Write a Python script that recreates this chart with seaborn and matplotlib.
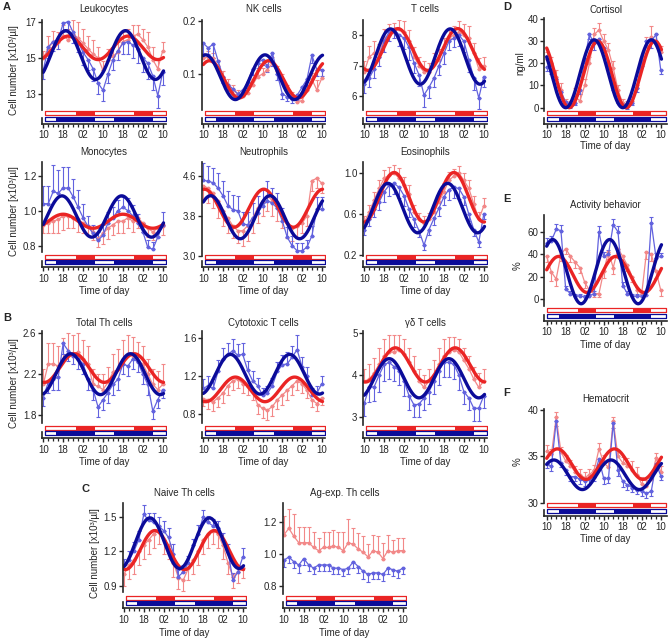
import numpy as np
import matplotlib
matplotlib.use("Agg")
import matplotlib.pyplot as plt
import seaborn as sns

sns.set_style("ticks")
plt.rcParams["font.family"] = ["Liberation Sans", "DejaVu Sans"]
plt.rcParams["font.size"] = 7

W, H = 669, 639
RED_FIT = "#ea2424"
BLUE_FIT = "#0b0b99"
RED_DATA = "#f28888"
BLUE_DATA = "#6262de"

# sampling times (h from 10:00 on day 1)
hours = [10, 12, 14, 16, 18, 20, 22, 24, 26, 28, 30, 32, 34, 36, 38, 40, 42, 44, 46, 48, 50, 52, 54, 56, 58]
tick_pos = [10, 18, 26, 34, 42, 50, 58]
tick_lab = ["10", "18", "02", "10", "18", "02", "10"]

# light / activity schedule bars
red_night = [(23, 30.7), (46.3, 54)]
blue_dark = [(15.2, 30.7), (38.5, 54)]

# ---- panel data (red condition / blue condition, mean and SEM) ----
leuko_red = [15.0, 15.5, 15.9, 15.9, 16.2, 16.0, 16.3, 16.1, 15.8, 15.5, 15.2, 15.0, 14.3, 14.9, 15.1, 15.3, 15.9, 16.0, 16.2, 16.3, 16.0, 15.6, 14.9, 14.4, 15.4]
leuko_red_err = [0.4, 0.7, 0.6, 0.5, 0.6, 0.6, 0.8, 0.9, 0.8, 0.7, 0.8, 0.6, 0.5, 0.6, 0.5, 0.6, 0.5, 0.6, 0.6, 0.5, 0.6, 0.8, 0.7, 0.5, 0.5]
leuko_blue = [14.3, 15.6, 15.9, 16.0, 16.9, 17.0, 16.4, 15.9, 15.3, 14.9, 14.4, 13.6, 13.2, 14.1, 14.9, 15.4, 15.8, 15.9, 15.7, 15.5, 15.0, 14.7, 14.0, 12.9, 14.2]
leuko_blue_err = [0.5, 0.6, 0.5, 0.5, 0.5, 0.6, 0.6, 0.6, 0.7, 0.6, 0.7, 0.6, 0.6, 0.5, 0.6, 0.5, 0.6, 0.7, 0.7, 0.8, 0.8, 0.9, 0.8, 0.7, 0.7]

nk_red = [0.13, 0.132, 0.13, 0.115, 0.095, 0.08, 0.07, 0.062, 0.058, 0.065, 0.08, 0.095, 0.1, 0.108, 0.12, 0.105, 0.09, 0.07, 0.058, 0.048, 0.05, 0.07, 0.09, 0.07, 0.092]
nk_red_err = [0.01, 0.012, 0.01, 0.012, 0.01, 0.01, 0.01, 0.008, 0.008, 0.01, 0.01, 0.012, 0.012, 0.01, 0.012, 0.01, 0.01, 0.01, 0.008, 0.01, 0.01, 0.015, 0.012, 0.018, 0.015]
nk_blue = [0.158, 0.149, 0.156, 0.125, 0.095, 0.08, 0.072, 0.063, 0.07, 0.085, 0.11, 0.121, 0.127, 0.115, 0.14, 0.1, 0.063, 0.057, 0.054, 0.06, 0.075, 0.09, 0.135, 0.108, 0.108]
nk_blue_err = [0.02, 0.012, 0.025, 0.015, 0.012, 0.01, 0.01, 0.008, 0.01, 0.012, 0.012, 0.01, 0.01, 0.012, 0.025, 0.012, 0.01, 0.008, 0.008, 0.008, 0.01, 0.012, 0.015, 0.012, 0.012]

tc_red = [6.8, 7.3, 7.4, 7.4, 7.9, 8.0, 8.1, 8.2, 8.1, 7.8, 7.3, 7.0, 6.8, 6.8, 7.1, 7.2, 7.6, 7.9, 8.0, 8.1, 8.0, 7.9, 7.4, 6.9, 7.0]
tc_red_err = [0.35, 0.35, 0.4, 0.3, 0.3, 0.35, 0.3, 0.3, 0.35, 0.35, 0.3, 0.3, 0.35, 0.3, 0.3, 0.35, 0.3, 0.3, 0.3, 0.35, 0.35, 0.4, 0.35, 0.35, 0.3]
tc_blue = [6.4, 6.6, 6.9, 7.3, 7.8, 8.1, 8.2, 8.0, 7.9, 7.6, 7.1, 6.7, 6.05, 6.3, 6.6, 7.0, 7.4, 7.8, 7.9, 8.0, 7.8, 7.2, 6.6, 5.95, 6.65]
tc_blue_err = [0.3, 0.3, 0.3, 0.3, 0.35, 0.3, 0.3, 0.35, 0.35, 0.4, 0.35, 0.35, 0.4, 0.35, 0.3, 0.3, 0.35, 0.3, 0.3, 0.35, 0.35, 0.4, 0.4, 0.35, 0.35]

mono_red = [0.92, 0.93, 0.94, 0.95, 0.97, 0.97, 0.96, 0.95, 0.93, 0.91, 0.88, 0.84, 0.87, 0.90, 0.92, 0.94, 0.94, 0.96, 0.94, 0.96, 0.93, 0.90, 0.88, 0.90, 0.91]
mono_red_err = [0.05, 0.06, 0.07, 0.08, 0.08, 0.07, 0.06, 0.07, 0.06, 0.05, 0.05, 0.05, 0.06, 0.06, 0.06, 0.07, 0.07, 0.06, 0.06, 0.06, 0.05, 0.05, 0.05, 0.05, 0.05]
mono_blue = [1.04, 1.04, 1.11, 1.10, 1.13, 1.13, 1.08, 1.02, 0.96, 0.91, 0.87, 0.83, 0.86, 0.93, 0.96, 1.00, 1.02, 1.00, 0.97, 0.93, 0.88, 0.79, 0.78, 0.85, 0.92]
mono_blue_err = [0.1, 0.1, 0.15, 0.13, 0.12, 0.12, 0.1, 0.1, 0.08, 0.06, 0.05, 0.05, 0.06, 0.06, 0.06, 0.06, 0.06, 0.07, 0.06, 0.05, 0.05, 0.04, 0.04, 0.05, 0.07]

neut_red = [4.4, 4.35, 4.25, 4.1, 3.9, 3.75, 3.6, 3.5, 3.5, 3.6, 3.75, 3.95, 4.1, 4.2, 4.1, 4.0, 3.85, 3.65, 3.55, 3.6, 3.65, 3.8, 4.5, 4.55, 4.45]
neut_red_err = [0.3, 0.3, 0.3, 0.35, 0.3, 0.3, 0.25, 0.25, 0.3, 0.3, 0.3, 0.3, 0.3, 0.3, 0.3, 0.3, 0.3, 0.3, 0.25, 0.25, 0.2, 0.2, 0.2, 0.2, 0.2]
neut_blue = [4.51, 4.49, 4.46, 4.35, 4.2, 4.0, 3.92, 3.9, 3.63, 3.62, 3.76, 3.85, 4.0, 4.1, 4.05, 3.95, 3.7, 3.37, 3.2, 3.1, 3.1, 3.17, 3.4, 3.93, 3.93]
neut_blue_err = [0.35, 0.3, 0.3, 0.3, 0.3, 0.3, 0.3, 0.3, 0.25, 0.25, 0.3, 0.35, 0.35, 0.4, 0.3, 0.3, 0.25, 0.2, 0.2, 0.15, 0.15, 0.15, 0.2, 0.25, 0.25]

eos_red = [0.52, 0.62, 0.74, 0.85, 0.95, 0.98, 1.0, 0.95, 0.88, 0.80, 0.62, 0.55, 0.52, 0.55, 0.62, 0.72, 0.82, 0.93, 0.97, 1.0, 0.93, 0.85, 0.7, 0.55, 0.68]
eos_red_err = [0.06, 0.07, 0.08, 0.08, 0.08, 0.08, 0.08, 0.1, 0.08, 0.08, 0.07, 0.06, 0.06, 0.06, 0.07, 0.08, 0.08, 0.08, 0.07, 0.07, 0.07, 0.08, 0.08, 0.07, 0.08]
eos_blue = [0.45, 0.55, 0.65, 0.72, 0.82, 0.88, 0.9, 0.86, 0.78, 0.65, 0.55, 0.44, 0.3, 0.45, 0.56, 0.66, 0.77, 0.84, 0.86, 0.85, 0.77, 0.6, 0.45, 0.33, 0.6]
eos_blue_err = [0.05, 0.06, 0.08, 0.08, 0.1, 0.1, 0.1, 0.1, 0.1, 0.08, 0.07, 0.06, 0.05, 0.05, 0.06, 0.08, 0.08, 0.1, 0.1, 0.1, 0.08, 0.07, 0.06, 0.05, 0.05]

th_red = [2.1, 2.3, 2.3, 2.28, 2.35, 2.4, 2.38, 2.42, 2.35, 2.3, 2.1, 2.08, 2.05, 2.12, 2.22, 2.25, 2.35, 2.4, 2.38, 2.33, 2.3, 2.2, 2.1, 2.05, 2.1]
th_red_err = [0.15, 0.2, 0.2, 0.2, 0.2, 0.2, 0.2, 0.18, 0.18, 0.18, 0.15, 0.12, 0.15, 0.15, 0.18, 0.2, 0.18, 0.18, 0.18, 0.18, 0.18, 0.15, 0.15, 0.18, 0.2]
th_blue = [1.97, 2.12, 2.15, 2.17, 2.5, 2.43, 2.38, 2.35, 2.3, 2.15, 2.05, 1.88, 1.95, 2.02, 2.1, 2.15, 2.3, 2.28, 2.35, 2.32, 2.2, 2.1, 1.84, 1.95, 2.05]
th_blue_err = [0.08, 0.1, 0.1, 0.12, 0.1, 0.1, 0.08, 0.1, 0.1, 0.1, 0.1, 0.1, 0.1, 0.1, 0.1, 0.1, 0.1, 0.1, 0.1, 0.1, 0.1, 0.1, 0.08, 0.08, 0.08]

cyto_red = [0.96, 0.95, 0.93, 0.97, 1.02, 1.1, 1.15, 1.17, 1.12, 1.1, 1.05, 0.9, 0.86, 0.84, 0.88, 0.95, 1.0, 1.05, 1.1, 1.15, 1.12, 1.05, 0.95, 0.91, 0.97]
cyto_red_err = [0.08, 0.1, 0.1, 0.1, 0.1, 0.1, 0.1, 0.1, 0.1, 0.1, 0.1, 0.1, 0.1, 0.1, 0.1, 0.1, 0.1, 0.1, 0.1, 0.1, 0.1, 0.08, 0.08, 0.08, 0.08]
cyto_blue = [1.07, 1.1, 1.07, 1.25, 1.38, 1.43, 1.47, 1.42, 1.43, 1.26, 1.15, 1.1, 1.0, 1.02, 1.1, 1.25, 1.32, 1.33, 1.4, 1.48, 1.3, 1.2, 1.0, 1.02, 1.12]
cyto_blue_err = [0.1, 0.1, 0.1, 0.12, 0.12, 0.12, 0.12, 0.12, 0.12, 0.1, 0.1, 0.08, 0.08, 0.08, 0.08, 0.1, 0.1, 0.12, 0.12, 0.15, 0.1, 0.1, 0.08, 0.08, 0.08]

gd_red = [3.85, 3.9, 4.05, 4.25, 4.45, 4.55, 4.55, 4.6, 4.5, 4.3, 4.1, 3.85, 3.7, 3.85, 4.0, 4.25, 4.45, 4.55, 4.6, 4.55, 4.35, 4.15, 3.9, 3.7, 3.85]
gd_red_err = [0.3, 0.35, 0.35, 0.4, 0.4, 0.4, 0.4, 0.35, 0.35, 0.35, 0.35, 0.3, 0.3, 0.3, 0.35, 0.4, 0.4, 0.35, 0.3, 0.3, 0.3, 0.3, 0.3, 0.35, 0.3]
gd_blue = [3.32, 3.7, 3.72, 4.0, 4.25, 4.3, 4.2, 4.1, 3.85, 3.5, 3.28, 3.3, 3.45, 3.6, 3.85, 4.1, 4.3, 4.3, 4.25, 4.0, 3.6, 3.45, 3.2, 3.2, 3.5]
gd_blue_err = [0.3, 0.35, 0.35, 0.4, 0.4, 0.4, 0.35, 0.35, 0.35, 0.35, 0.3, 0.3, 0.3, 0.3, 0.3, 0.35, 0.35, 0.35, 0.35, 0.35, 0.3, 0.3, 0.3, 0.3, 0.3]

naive_red = [1.0, 1.08, 1.12, 1.2, 1.25, 1.3, 1.35, 1.38, 1.3, 1.25, 1.1, 0.97, 0.95, 1.05, 1.12, 1.2, 1.3, 1.35, 1.38, 1.35, 1.25, 1.1, 0.98, 1.02, 1.05]
naive_red_err = [0.1, 0.12, 0.12, 0.12, 0.12, 0.12, 0.12, 0.12, 0.12, 0.12, 0.12, 0.1, 0.1, 0.1, 0.12, 0.12, 0.12, 0.12, 0.12, 0.12, 0.12, 0.1, 0.1, 0.1, 0.08]
naive_blue = [1.08, 1.12, 1.2, 1.3, 1.52, 1.47, 1.45, 1.42, 1.38, 1.32, 1.18, 0.98, 1.02, 1.1, 1.25, 1.35, 1.5, 1.45, 1.42, 1.4, 1.3, 1.2, 0.95, 1.02, 1.15]
naive_blue_err = [0.05, 0.08, 0.08, 0.08, 0.08, 0.06, 0.08, 0.08, 0.08, 0.08, 0.08, 0.06, 0.06, 0.06, 0.06, 0.08, 0.06, 0.06, 0.06, 0.06, 0.06, 0.06, 0.06, 0.06, 0.08]

ag_red = [1.12, 1.16, 1.11, 1.07, 1.07, 1.07, 1.04, 1.02, 1.04, 1.04, 1.05, 1.04, 1.02, 1.07, 1.06, 1.03, 1.01, 0.98, 1.02, 1.01, 0.97, 1.02, 1.01, 1.02, 1.02]
ag_red_err = [0.12, 0.12, 0.14, 0.1, 0.1, 0.1, 0.1, 0.08, 0.1, 0.1, 0.1, 0.1, 0.12, 0.15, 0.1, 0.1, 0.1, 0.08, 0.1, 0.1, 0.1, 0.1, 0.08, 0.08, 0.08]
ag_blue = [0.96, 0.98, 0.95, 0.93, 0.97, 0.93, 0.91, 0.93, 0.93, 0.93, 0.91, 0.91, 0.90, 0.91, 0.95, 0.92, 0.89, 0.87, 0.88, 0.88, 0.87, 0.91, 0.90, 0.89, 0.91]
ag_blue_err = [0.04, 0.04, 0.04, 0.05, 0.04, 0.04, 0.04, 0.04, 0.04, 0.04, 0.04, 0.04, 0.04, 0.04, 0.04, 0.04, 0.05, 0.05, 0.04, 0.04, 0.04, 0.04, 0.04, 0.04, 0.04]

cort_red = [22, 20, 14, 8, 2, 1, 5, 3, 10, 20, 33, 35, 30, 26, 18, 8, 2, 1, 3, 10, 20, 28, 32, 30, 25]
cort_red_err = [3, 3, 3, 3, 2, 2, 4, 3, 3, 3, 3, 3, 3, 3, 3, 2, 2, 2, 2, 3, 3, 4, 5, 3, 3]
cort_blue = [18.5, 17, 13, 7, 2.5, 1, 2, 8, 22, 33, 29, 31, 27, 20, 10, 3, 1, 0.5, 2, 9, 21, 30, 30, 33, 17]
cort_blue_err = [2, 2, 2, 2, 1, 1, 1, 2, 2, 2, 3, 2, 2, 2, 2, 1, 1, 1, 1, 2, 2, 2, 3, 3, 2]

act_red = [38, 24, 18, 40, 45, 38, 33, 28, 15, 8, 5, 5, 25, 42, 28, 45, 38, 30, 20, 8, 5, 42, 40, 25, 8]
act_red_err = [5, 8, 6, 6, 5, 5, 5, 5, 5, 4, 3, 3, 6, 6, 6, 5, 5, 5, 5, 4, 3, 6, 6, 6, 5]
act_blue = [50, 52, 62, 61, 9, 5, 3, 3, 2, 3, 5, 60, 38, 40, 66, 60, 12, 5, 3, 2.5, 3, 4, 68, 37, 38]
act_blue_err = [4, 4, 5, 5, 3, 2, 2, 2, 2, 2, 2, 5, 4, 4, 5, 5, 3, 2, 2, 2, 2, 2, 5, 4, 3]

hct_red = [35.6, 35.2, 39.2, 35.5, 34.5, 34.0, 33.3, 33.0, 32.7, 33.0, 33.5, 35.8, 34.3, 33.8, 38.8, 35.0, 34.3, 34.0, 33.5, 33.0, 32.0, 31.8, 32.5, 34.8, 33.3]
hct_red_err = [0.6, 0.6, 0.6, 0.5, 0.6, 0.6, 0.6, 0.6, 0.6, 0.6, 0.6, 0.6, 0.8, 0.6, 0.5, 0.6, 0.6, 0.8, 1.0, 0.8, 0.8, 0.6, 0.6, 0.6, 0.6]
hct_blue = [34.2, 33.9, 38.8, 34.3, 33.5, 32.8, 32.8, 32.5, 32.3, 32.5, 32.8, 34.7, 32.6, 32.6, 38.6, 33.5, 32.3, 31.9, 31.6, 31.4, 31.2, 31.0, 31.2, 34.2, 32.9]
hct_blue_err = [0.5, 0.5, 0.5, 0.5, 0.5, 0.5, 0.5, 0.5, 0.5, 0.5, 0.5, 0.6, 0.6, 0.5, 0.5, 0.6, 0.6, 0.5, 0.5, 0.5, 0.5, 0.5, 0.5, 0.5, 0.5]

# cosinor fits: (mesor, amplitude, peak hour)
fits = {
    "Leukocytes": ((15.55, 0.65, 20), (15.15, 1.35, 19)),
    "NK cells": ((0.09, 0.035, 12.5), (0.094, 0.042, 11)),
    "T cells": ((7.53, 0.68, 23.5), (7.3, 0.9, 20.5)),
    "Monocytes": ((0.94, 0.04, 18), (0.967, 0.118, 17.5)),
    "Neutrophils": ((3.95, 0.38, 10.5), (3.77, 0.43, 13)),
    "Eosinophils": ((0.765, 0.24, 22), (0.66, 0.24, 19.5)),
    "Total Th cells": ((2.26, 0.14, 22.5), (2.2, 0.2, 21)),
    "Cytotoxic T cells": ((1.06, 0.13, 23), (1.22, 0.21, 21)),
    "γδ T cells": ((4.24, 0.41, 22.5), (3.92, 0.47, 20)),
    "Naive Th cells": ((1.21, 0.17, 22.5), (1.27, 0.22, 20.5)),
    "Cortisol": ((15, 15, 31.5), (15.3, 15.3, 30)),
    "Activity behavior": ((22, 16, 15), (24.5, 28.5, 12.5)),
    "Hematocrit": ((34.15, 1.65, 14.5), (33.0, 1.6, 13)),
}

fig = plt.figure(figsize=(W / 100, H / 100), dpi=100)


def px_axes(l, t, r, b):
    return fig.add_axes([l / W, 1 - b / H, (r - l) / W, (b - t) / H])


def cosinor(p, t):
    m, a, peak = p
    return m + a * np.cos(2 * np.pi * (t - peak) / 24)


def panel(box, xlim, ylim, yticks, ylabels, title, title_y, red, red_err, blue, blue_err, red_up=True):
    l, r, top, dbot, xax = box
    ax = px_axes(l, top, r, dbot)
    ax.set_xlim(xlim)
    ax.set_ylim(ylim)
    ax.patch.set_alpha(0)
    zeros = [0] * len(hours)
    r_err = [zeros, red_err] if red_up else [red_err, zeros]
    b_err = [blue_err, zeros] if red_up else [zeros, blue_err]
    ax.errorbar(hours, red, yerr=r_err, fmt="none", ecolor=RED_DATA, elinewidth=0.8, capsize=1.6, capthick=0.8)
    ax.errorbar(hours, blue, yerr=b_err, fmt="none", ecolor=BLUE_DATA, elinewidth=0.8, capsize=1.6, capthick=0.8)
    sns.lineplot(x=hours, y=red, ax=ax, color=RED_DATA, linewidth=0.9, marker="o", markersize=2.8, markeredgewidth=0)
    sns.lineplot(x=hours, y=blue, ax=ax, color=BLUE_DATA, linewidth=0.9, marker="o", markersize=2.8, markeredgewidth=0)
    if title in fits:
        tt = np.linspace(10, 58.3, 300)
        sns.lineplot(x=tt, y=cosinor(fits[title][0], tt), ax=ax, color=RED_FIT, linewidth=2.4)
        sns.lineplot(x=tt, y=cosinor(fits[title][1], tt), ax=ax, color=BLUE_FIT, linewidth=2.4)
    sns.despine(ax=ax, bottom=True)
    ax.set_xticks([])
    ax.set_yticks(yticks)
    ax.set_yticklabels(ylabels)
    ax.spines["left"].set_linewidth(1.2)
    ax.tick_params(axis="y", length=3, width=1, pad=1, labelsize=7)
    ax.set_xlabel("")
    ax.set_ylabel("")

    # schedule bars + time axis
    bx = px_axes(l, xax - 15, r, xax)
    bx.set_xlim(xlim)
    bx.set_ylim(0, 1)
    bx.patch.set_alpha(0)
    sns.despine(ax=bx)
    bx.spines["left"].set_bounds(0, 0.4)
    bx.spines["left"].set_linewidth(1.2)
    bx.spines["bottom"].set_linewidth(1.2)
    bx.set_yticks([])
    x0 = xlim[0] + 1.3
    x1 = xlim[1] - 0.1
    bx.broken_barh([(x0, x1 - x0)], (0.58, 0.26), facecolor="white", edgecolor=RED_FIT, linewidth=0.9)
    bx.broken_barh([(a, b - a) for a, b in red_night], (0.58, 0.26), facecolor=RED_FIT, edgecolor="none")
    bx.broken_barh([(x0, x1 - x0)], (0.19, 0.27), facecolor="white", edgecolor=BLUE_FIT, linewidth=0.9)
    bx.broken_barh([(a, b - a) for a, b in blue_dark], (0.19, 0.27), facecolor=BLUE_FIT, edgecolor="none")
    bx.set_xticks(tick_pos)
    bx.set_xticklabels(tick_lab)
    bx.set_xticks(hours, minor=True)
    bx.tick_params(axis="x", which="major", length=3, width=1, pad=1.5, labelsize=7)
    bx.tick_params(axis="x", which="minor", length=2.2, width=0.9)

    fig.text((l + r) / 2 / W, 1 - title_y / H, title, ha="center", va="center", fontsize=7)
    return ax


C1 = (9.5, 59.3)
CR = (9.0, 60.5)

# row A top
panel((42, 166, 20, 110, 124), C1, (12.11, 17.09), [13, 15, 17], ["13", "15", "17"], "Leukocytes", 8.5,
      leuko_red, leuko_red_err, leuko_blue, leuko_blue_err)
panel((202, 325, 20, 110, 124), C1, (0.0324, 0.2015), [0.1, 0.2], ["0.1", "0.2"], "NK cells", 8.5,
      nk_red, nk_red_err, nk_blue, nk_blue_err)
for a in fig.axes[-2:-1]:
    pass
panel((363, 487, 20, 110, 124), C1, (5.56, 8.49), [6, 7, 8], ["6", "7", "8"], "T cells", 8.5,
      tc_red, tc_red_err, tc_blue, tc_blue_err)

# row A bottom
panel((42, 166, 161.7, 251.7, 267.3), C1, (0.766, 1.28), [0.8, 1.0, 1.2], ["0.8", "1.0", "1.2"], "Monocytes", 152,
      mono_red, mono_red_err, mono_blue, mono_blue_err, red_up=False)
panel((202, 325, 161.7, 256, 267.3), C1, (2.995, 4.88), [3.0, 3.8, 4.6], ["3.0", "3.8", "4.6"], "Neutrophils", 152,
      neut_red, neut_red_err, neut_blue, neut_blue_err, red_up=False)
panel((363, 487, 161.7, 256, 267.3), C1, (0.195, 1.11), [0.2, 0.6, 1.0], ["0.2", "0.6", "1.0"], "Eosinophils", 152,
      eos_red, eos_red_err, eos_blue, eos_blue_err)

# row B
panel((42, 166, 330.7, 423.3, 438.3), C1, (1.72, 2.625), [1.8, 2.2, 2.6], ["1.8", "2.2", "2.6"], "Total Th cells", 323,
      th_red, th_red_err, th_blue, th_blue_err)
panel((202, 325, 330.7, 423, 438.3), C1, (0.705, 1.68), [0.8, 1.2, 1.6], ["0.8", "1.2", "1.6"], "Cytotoxic T cells", 323,
      cyto_red, cyto_red_err, cyto_blue, cyto_blue_err, red_up=False)
panel((363, 487, 330.7, 425, 438.3), C1, (2.8, 5.06), [3, 4, 5], ["3", "4", "5"], "γδ T cells", 323,
      gd_red, gd_red_err, gd_blue, gd_blue_err)

# row C
panel((122.7, 246, 503.3, 591.7, 608.3), C1, (0.848, 1.617), [0.9, 1.2, 1.5], ["0.9", "1.2", "1.5"], "Naive Th cells", 493,
      naive_red, naive_red_err, naive_blue, naive_blue_err, red_up=False)
panel((282.7, 406, 503.3, 594, 608.3), C1, (0.747, 1.318), [0.8, 1.0, 1.2], ["0.8", "1.0", "1.2"], "Ag-exp. Th cells", 493,
      ag_red, ag_red_err, ag_blue, ag_blue_err)

# right column
panel((544.3, 666.7, 18.3, 111, 124), CR, (-1.5, 40.3), [0, 10, 20, 30, 40], ["0", "10", "20", "30", "40"], "Cortisol", 10,
      cort_red, cort_red_err, cort_blue, cort_blue_err)
panel((544.3, 666.7, 215, 306, 321), CR, (-6.0, 74.8), [0, 20, 40, 60], ["0", "20", "40", "60"], "Activity behavior", 204.5,
      act_red, act_red_err, act_blue, act_blue_err, red_up=False)
panel((544.3, 666.7, 409.3, 502.7, 515.7), CR, (29.98, 40.08), [30, 35, 40], ["30", "35", "40"], "Hematocrit", 398.5,
      hct_red, hct_red_err, hct_blue, hct_blue_err)

# x labels
for l, r, y in [(42, 166, 291), (202, 325, 291), (363, 487, 291),
                (42, 166, 462), (202, 325, 462), (363, 487, 462),
                (122.7, 246, 633), (282.7, 406, 633),
                (544.3, 666.7, 146), (544.3, 666.7, 345), (544.3, 666.7, 538.5)]:
    fig.text((l + r) / 2 / W, 1 - y / H, "Time of day", ha="center", va="center", fontsize=7)

# y labels
ylab = "Cell number [x10³/µl]"
for x, y in [(14, 70), (14, 211), (14, 383), (95, 553)]:
    fig.text(x / W, 1 - y / H, ylab, rotation=90, ha="center", va="center", fontsize=7)
fig.text(520 / W, 1 - 63 / H, "ng/ml", rotation=90, ha="center", va="center", fontsize=7)
fig.text(518 / W, 1 - 266 / H, "%", rotation=90, ha="center", va="center", fontsize=7)
fig.text(518 / W, 1 - 462 / H, "%", rotation=90, ha="center", va="center", fontsize=7)

# panel letters
for s, x, y in [("A", 7, 7), ("B", 7, 318), ("C", 85, 489), ("D", 507, 7), ("E", 507, 199), ("F", 507, 393)]:
    fig.text(x / W, 1 - y / H, s, ha="center", va="center", fontsize=8, fontweight="bold")

fig.savefig("out.png", dpi=100)
